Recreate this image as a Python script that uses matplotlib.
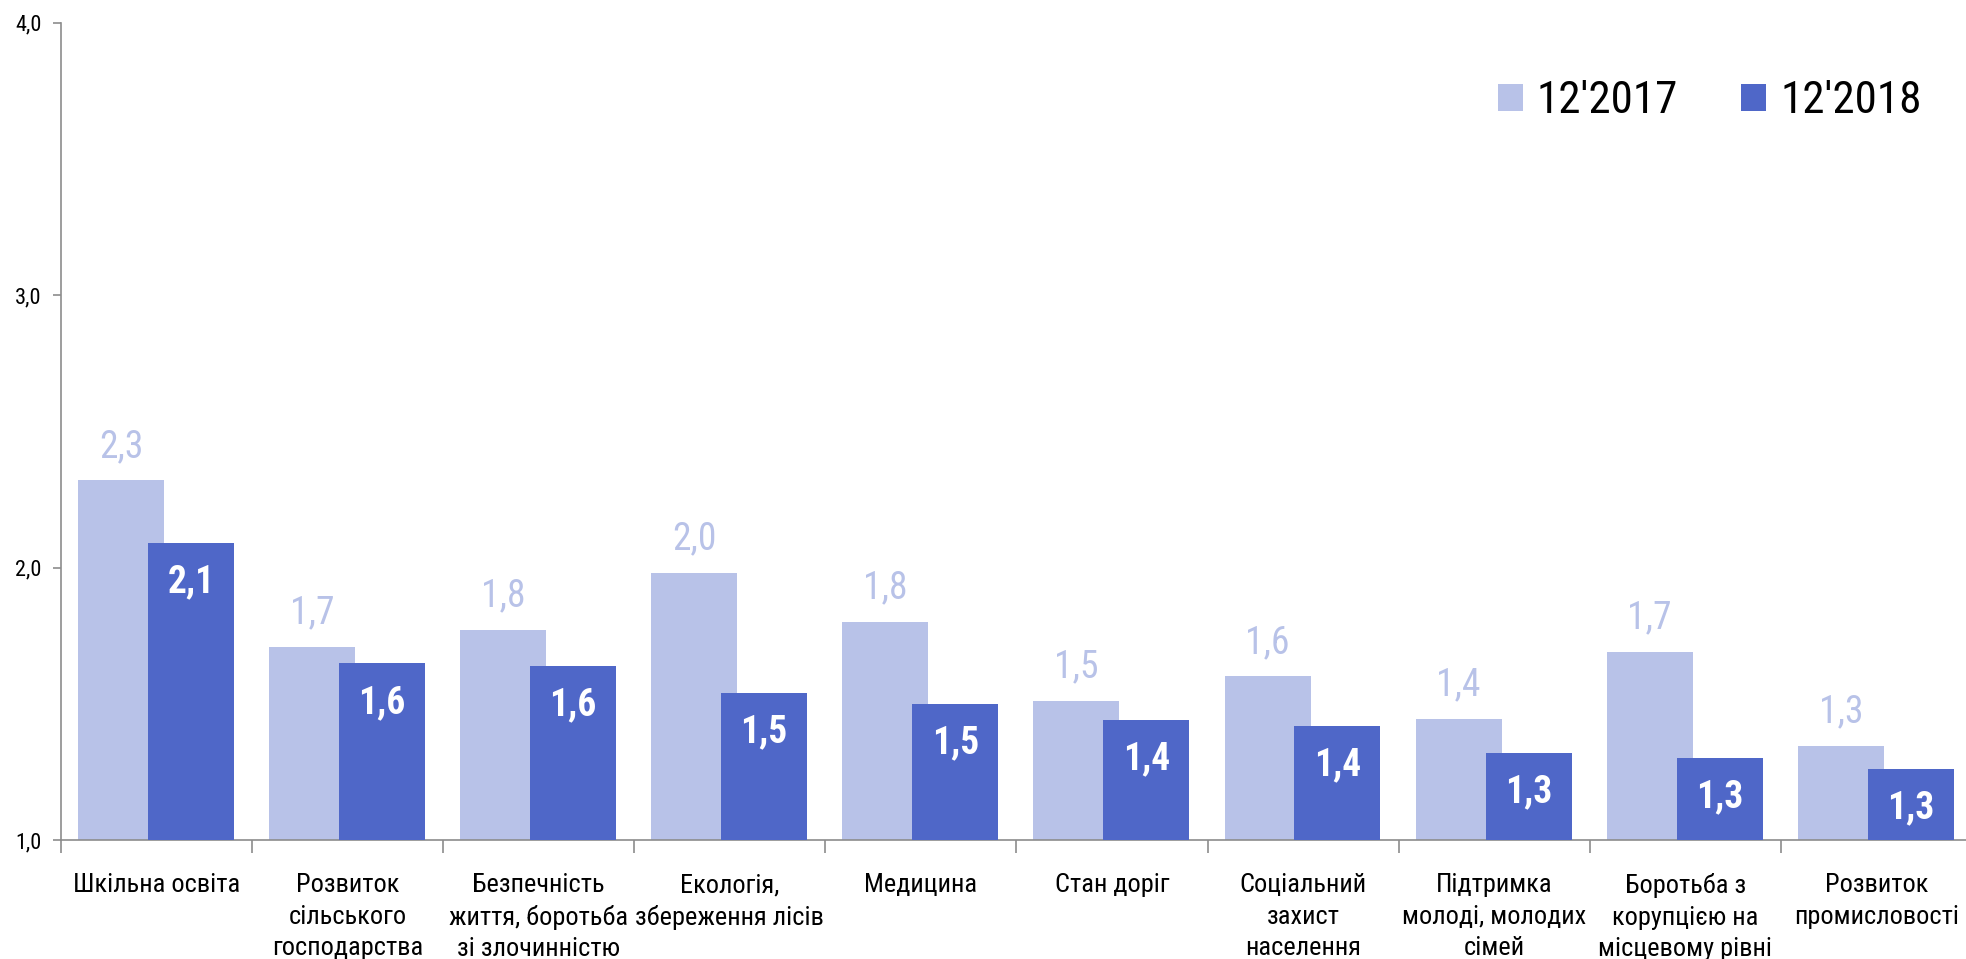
"""Bar chart: average rating of local problems, 12'2017 vs 12'2018."""
import numpy as np
import matplotlib.pyplot as plt

LIGHT = "#b8c2e8"
DARK = "#4f67c8"
AXIS_GREY = "#8c8c8c"

plt.rcParams["font.family"] = ["Roboto Condensed", "DejaVu Sans"]

categories = [
    "Шкільна освіта",
    "Розвиток\nсільського\nгосподарства",
    "Безпечність\nжиття, боротьба\nзі злочинністю",
    "Екологія,\nзбереження лісів",
    "Медицина",
    "Стан доріг",
    "Соціальний\nзахист\nнаселення",
    "Підтримка\nмолоді, молодих\nсімей",
    "Боротьба з\nкорупцією на\nмісцевому рівні",
    "Розвиток\nпромисловості",
]
series_names = ["12'2017", "12'2018"]
values_2017 = [2.32, 1.71, 1.77, 1.98, 1.80, 1.51, 1.60, 1.445, 1.69, 1.345]
values_2018 = [2.09, 1.648, 1.64, 1.54, 1.50, 1.44, 1.42, 1.32, 1.30, 1.26]
y_ticks = [1.0, 2.0, 3.0, 4.0]


def fmt(v):
    return f"{v:.1f}".replace(".", ",")


fig = plt.figure(figsize=(19.66, 9.59), dpi=100)
ax = fig.add_axes([0.031, 0.1241, 0.972, 0.8524])

x = np.arange(len(categories))
width = 0.45
bars_a = ax.bar(x - 0.186, np.array(values_2017) - 1.0, width, bottom=1.0,
                color=LIGHT, label=series_names[0], zorder=2)
bars_b = ax.bar(x + 0.18, np.array(values_2018) - 1.0, width, bottom=1.0,
                color=DARK, label=series_names[1], zorder=3)

for bar, v in zip(bars_a, values_2017):
    ax.annotate(fmt(v), (bar.get_x() + bar.get_width() / 2, v), xytext=(0, 24.5),
                textcoords="offset points", ha="center", va="center",
                fontsize=27, color=LIGHT)
for bar, v in zip(bars_b, values_2018):
    ax.annotate(fmt(v), (bar.get_x() + bar.get_width() / 2, v), xytext=(0, -28),
                textcoords="offset points", ha="center", va="center",
                fontsize=27, color="white", fontweight="bold")

ax.set_xlim(-0.5, len(categories) - 0.5)
ax.set_ylim(1.0, 4.0)
ax.set_yticks(y_ticks)
ax.set_yticklabels([fmt(t) for t in y_ticks], fontsize=16)
ax.set_xticks(x)
ax.set_xticklabels(categories, fontsize=19, multialignment="center", linespacing=1.38)
ax.set_xticks(np.arange(len(categories) + 1) - 0.5, minor=True)
ax.tick_params(axis="x", which="major", length=0, pad=24)
ax.tick_params(axis="x", which="minor", length=9, color=AXIS_GREY, width=1.2)
ax.tick_params(axis="y", length=6, color=AXIS_GREY, width=1.2, pad=8)

for side in ["top", "right"]:
    ax.spines[side].set_visible(False)
for side in ["left", "bottom"]:
    ax.spines[side].set_color(AXIS_GREY)
    ax.spines[side].set_linewidth(1.2)

ax.legend(loc="upper right", bbox_to_anchor=(0.995, 0.979), ncol=2, frameon=False,
          fontsize=32.5, handlelength=0.55, handleheight=0.55, handletextpad=0.31,
          columnspacing=1.4)

fig.savefig("out.png", dpi=100)
